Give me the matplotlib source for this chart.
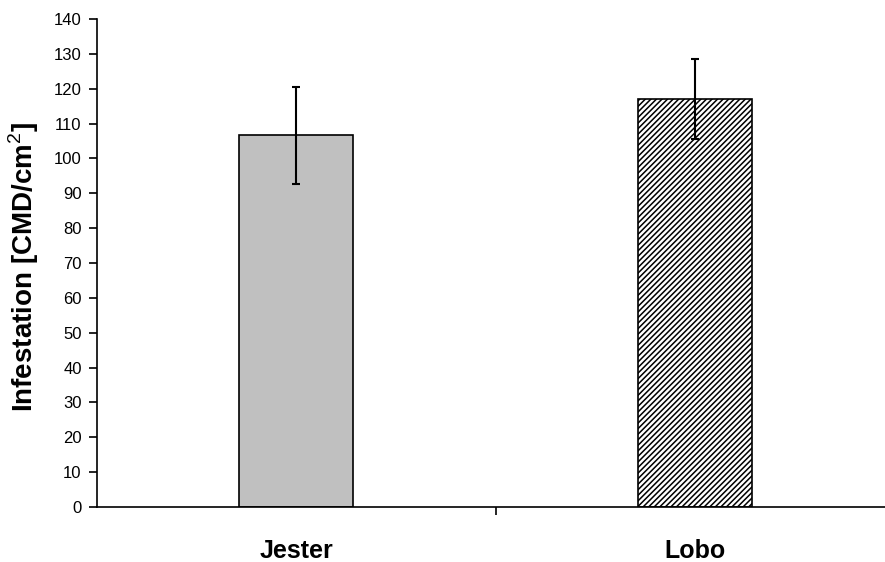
import matplotlib
matplotlib.use("Agg")
import matplotlib.pyplot as plt

categories = ["Jester", "Lobo"]
means = [106.7, 117.0]
errors = [13.9, 11.5]
yticks = list(range(0, 141, 10))

plt.rcParams['font.family'] = ['Liberation Sans', 'DejaVu Sans']
plt.rcParams['hatch.linewidth'] = 1.1
plt.rcParams['mathtext.fontset'] = 'custom'
plt.rcParams['mathtext.rm'] = 'Liberation Sans'
plt.rcParams['mathtext.bf'] = 'Liberation Sans:bold'

W, H = 885, 562
fig = plt.figure(figsize=(W / 100, H / 100), dpi=100)
ax = fig.add_axes([97 / W, (H - 507) / H, (885 - 97) / W, 488 / H])

x = [0, 1]
bars = ax.bar(x, means, width=0.286, color=['#c0c0c0', 'white'],
              edgecolor='black', linewidth=1.2, zorder=2)
bars[1].set_hatch('//////')
ax.errorbar(x, means, yerr=errors, fmt='none', ecolor='black',
            elinewidth=1.5, capsize=3, capthick=1.5, zorder=3)

ax.set_xlim(-0.499, 1.476)
ax.set_ylim(0, 140)
ax.set_yticks(yticks)
ax.set_yticklabels([str(t) for t in yticks], fontsize=12)
ax.set_xticks([0.5])
ax.set_xticklabels([''])
ax.tick_params(axis='x', direction='out', length=6, width=1.2)
ax.tick_params(axis='y', direction='out', length=6, width=1.2, pad=5)
for i, c in enumerate(categories):
    ax.text(x[i], -12.5, c, ha='center', va='center', fontsize=18,
            fontweight='bold', transform=ax.transData)

for s in ['top', 'right']:
    ax.spines[s].set_visible(False)
for s in ['left', 'bottom']:
    ax.spines[s].set_linewidth(1.2)

ax.set_ylabel('Infestation [CMD/cm$^\\mathrm{2}$]', fontsize=20,
              fontweight='bold')
ax.yaxis.set_label_coords((41 - 97) / 788, (507 - 267) / 488)

fig.savefig('out.png', dpi=100)
